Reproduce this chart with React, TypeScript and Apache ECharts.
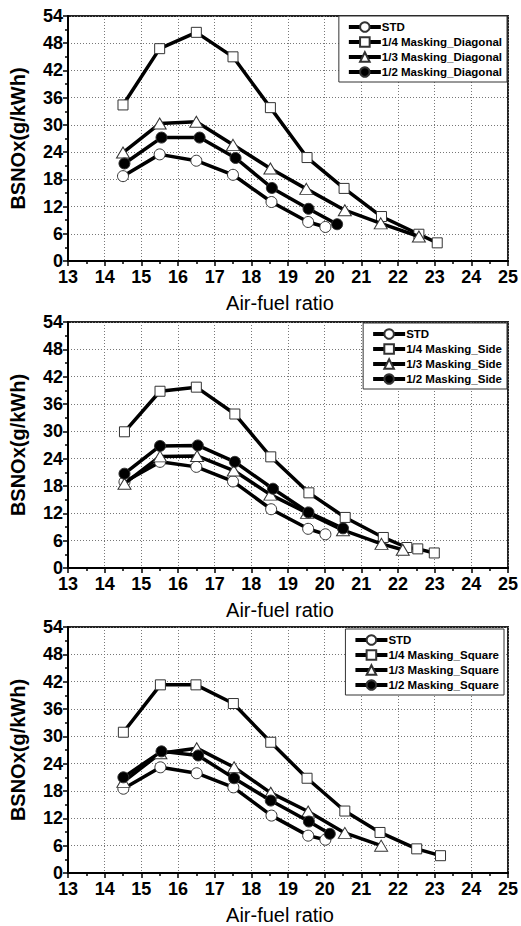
import React, { useEffect, useRef } from "react";
import * as echarts from "echarts";

// ---------- Data ----------
const xTicks = [13, 14, 15, 16, 17, 18, 19, 20, 21, 22, 23, 24, 25];
const yTicks = [0, 6, 12, 18, 24, 30, 36, 42, 48, 54];

// Panel 1: Diagonal
const stdX1 = [14.5, 15.5, 16.5, 17.5, 18.55, 19.55, 20.02];
const stdY1 = [18.7, 23.5, 22.1, 19.0, 13.0, 8.6, 7.5];
const diagQX = [14.5, 15.5, 16.5, 17.5, 18.52, 19.52, 20.53, 21.55, 22.57, 23.07];
const diagQY = [34.4, 46.8, 50.4, 45.0, 33.8, 22.8, 16.0, 9.8, 5.9, 4.0];
const diagTX = [14.5, 15.5, 16.5, 17.5, 18.52, 19.5, 20.55, 21.53, 22.57];
const diagTY = [23.9, 30.3, 30.7, 25.6, 20.4, 15.9, 11.2, 8.3, 5.4];
const diagHX = [14.54, 15.55, 16.59, 17.57, 18.56, 19.56, 20.34];
const diagHY = [21.5, 27.2, 27.2, 22.7, 16.1, 11.5, 8.1];

// Panel 2: Side
const stdX2 = [14.54, 15.51, 16.5, 17.5, 18.54, 19.55, 20.02];
const stdY2 = [18.9, 23.3, 22.2, 19.0, 12.9, 8.6, 7.4];
const sideQX = [14.54, 15.51, 16.5, 17.55, 18.53, 19.57, 20.56, 21.6, 22.24, 22.54, 22.99];
const sideQY = [29.9, 38.8, 39.7, 33.8, 24.4, 16.5, 11.1, 6.7, 4.5, 4.2, 3.3];
const sideTX = [14.54, 15.51, 16.52, 17.52, 18.52, 19.52, 20.5, 21.55, 22.13];
const sideTY = [18.5, 24.5, 24.6, 21.4, 16.1, 12.1, 8.3, 5.3, 4.0];
const sideHX = [14.54, 15.51, 16.54, 17.55, 18.59, 19.56, 20.5];
const sideHY = [20.7, 26.8, 26.9, 23.3, 17.4, 12.2, 8.7];

// Panel 3: Square
const stdX3 = [14.51, 15.52, 16.51, 17.51, 18.55, 19.55, 20.02];
const stdY3 = [18.5, 23.2, 21.9, 18.8, 12.6, 8.2, 7.3];
const sqQX = [14.51, 15.52, 16.49, 17.51, 18.53, 19.52, 20.55, 21.51, 22.51, 23.16];
const sqQY = [30.9, 41.3, 41.3, 37.2, 28.7, 20.8, 13.6, 8.9, 5.3, 3.8];
const sqTX = [14.51, 15.52, 16.51, 17.53, 18.53, 19.55, 20.55, 21.54];
const sqTY = [20.0, 26.3, 27.4, 23.2, 17.6, 13.5, 8.8, 6.0];
const sqHX = [14.51, 15.55, 16.55, 17.53, 18.53, 19.57, 20.14];
const sqHY = [21.0, 26.7, 25.8, 20.8, 15.9, 11.3, 8.6];

const panelNames = [
  ["STD", "1/4 Masking_Diagonal", "1/3 Masking_Diagonal", "1/2 Masking_Diagonal"],
  ["STD", "1/4 Masking_Side", "1/3 Masking_Side", "1/2 Masking_Side"],
  ["STD", "1/4 Masking_Square", "1/3 Masking_Square", "1/2 Masking_Square"],
];
const panelData = [
  [[stdX1, stdY1], [diagQX, diagQY], [diagTX, diagTY], [diagHX, diagHY]],
  [[stdX2, stdY2], [sideQX, sideQY], [sideTX, sideTY], [sideHX, sideHY]],
  [[stdX3, stdY3], [sqQX, sqQY], [sqTX, sqTY], [sqHX, sqHY]],
];

const FONT = "'Liberation Sans', Arial, sans-serif";

const markerStyles = [
  { symbol: "circle", size: 11, fill: "#fff" },
  { symbol: "rect", size: 10, fill: "#fff" },
  { symbol: "triangle", size: [13, 11], fill: "#fff" },
  { symbol: "circle", size: 11, fill: "#000" },
];

const grids = [
  { top: 16, height: 245 },
  { top: 322, height: 246 },
  { top: 627, height: 246 },
];
const legendPos = [
  { top: 16, right: 14 },
  { top: 323, right: 14 },
  { top: 629, right: 17 },
];

export default function App() {
  const ref = useRef<HTMLDivElement>(null);
  useEffect(() => {
    if (!ref.current) return;
    const chart = echarts.init(ref.current, null, { renderer: "svg" });

    const xAxes: any[] = [];
    const yAxes: any[] = [];
    const series: any[] = [];
    const legends: any[] = [];

    grids.forEach((g, p) => {
      xAxes.push({
        type: "value",
        gridIndex: p,
        min: xTicks[0],
        max: xTicks[xTicks.length - 1],
        interval: 1,
        name: "Air-fuel ratio",
        nameLocation: "middle",
        nameGap: 32,
        nameTextStyle: { fontFamily: FONT, fontSize: 20, color: "#000", padding: [0, 16, 0, 0] },
        axisLine: { show: true, onZero: false, lineStyle: { color: "#000", width: 2 } },
        axisTick: { show: true, length: 5, lineStyle: { color: "#000", width: 1.5 } },
        minorTick: { show: true, splitNumber: 2, length: 3, lineStyle: { color: "#000", width: 1.5 } },
        axisLabel: { fontFamily: FONT, fontSize: 18, lineHeight: 14, fontWeight: "bold", color: "#000", margin: 9 },
        splitLine: { show: true, lineStyle: { color: "#777", type: [1, 2], width: 1 } },
      });
      yAxes.push({
        type: "value",
        gridIndex: p,
        min: yTicks[0],
        max: yTicks[yTicks.length - 1],
        interval: 6,
        name: "BSNOx(g/kWh)",
        nameLocation: "middle",
        nameGap: 40,
        nameRotate: 90,
        nameTextStyle: { fontFamily: FONT, fontSize: 20, fontWeight: "bold", color: "#000" },
        axisLine: { show: true, onZero: false, lineStyle: { color: "#000", width: 2 } },
        axisTick: { show: true, length: 5, lineStyle: { color: "#000", width: 1.5 } },
        minorTick: { show: true, splitNumber: 2, length: 3, lineStyle: { color: "#000", width: 1.5 } },
        axisLabel: { fontFamily: FONT, fontSize: 18, lineHeight: 14, fontWeight: "bold", color: "#000", margin: 5 },
        splitLine: { show: true, lineStyle: { color: "#777", type: [1, 2], width: 1 } },
      });
      panelNames[p].forEach((name, i) => {
        const [xs, ys] = panelData[p][i];
        const m = markerStyles[i];
        series.push({
          type: "line",
          name,
          xAxisIndex: p,
          yAxisIndex: p,
          data: xs.map((x, k) => [x, ys[k]]),
          symbol: m.symbol,
          symbolSize: m.size,
          showAllSymbol: true,
          lineStyle: { color: "#000", width: 3.5 },
          itemStyle: { color: m.fill, borderColor: "#333", borderWidth: 1 },
          emphasis: { disabled: true },
          z: 2 + i,
        });
      });
      legends.push({
        ...legendPos[p],
        orient: "vertical",
        data: panelNames[p],
        itemWidth: 32,
        itemHeight: 12,
        itemGap: 3,
        padding: [5, 5, 4, 8],
        backgroundColor: "#fff",
        borderColor: "#333",
        borderWidth: 1,
        lineStyle: { width: 4, color: "#000" },
        textStyle: { fontFamily: FONT, fontSize: 11.5, fontWeight: "bold", color: "#000", padding: [0, 0, 0, -4] },
        selectedMode: false,
      });
    });

    chart.setOption({
      animation: false,
      backgroundColor: "#fff",
      grid: grids.map((g) => ({
        left: 67,
        right: 12,
        top: g.top,
        height: g.height,
        show: true,
        borderColor: "#222",
        borderWidth: 2,
        backgroundColor: "#fff",
      })),
      legend: legends,
      xAxis: xAxes,
      yAxis: yAxes,
      series,
    });
    return () => chart.dispose();
  }, []);
  return (
    <div
      ref={ref}
      style={{ position: "fixed", left: 0, top: 0, width: 521, height: 926, background: "#fff" }}
    />
  );
}
